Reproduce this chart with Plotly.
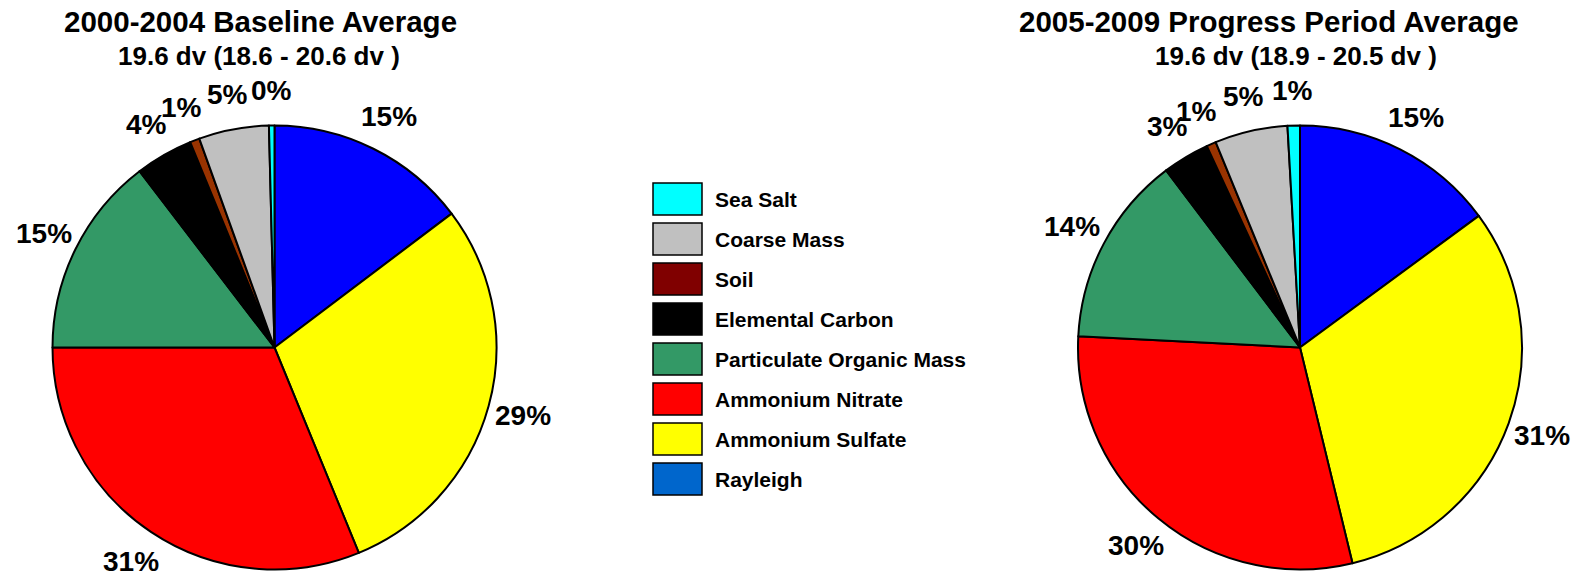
import math
import plotly.graph_objects as go

W, H = 1582, 576

# Slice order (clockwise from 12 o'clock)
components = ["Rayleigh", "Ammonium Sulfate", "Ammonium Nitrate",
              "Particulate Organic Mass", "Elemental Carbon", "Soil",
              "Coarse Mass", "Sea Salt"]
baseline_pct = [14.7, 29.1, 31.2, 14.6, 4.2, 0.7, 5.1, 0.4]
progress_pct = [14.9, 31.3, 29.6, 13.9, 3.4, 0.7, 5.3, 0.9]
pie_colors = ["#0000FF", "#FFFF00", "#FF0000", "#339966", "#000000",
              "#993300", "#C0C0C0", "#00FFFF"]

# Legend (top to bottom)
legend_labels = ["Sea Salt", "Coarse Mass", "Soil", "Elemental Carbon",
                 "Particulate Organic Mass", "Ammonium Nitrate",
                 "Ammonium Sulfate", "Rayleigh"]
legend_colors = ["#00FFFF", "#C0C0C0", "#800000", "#000000", "#339966",
                 "#FF0000", "#FFFF00", "#0066CC"]

titles = ["2000-2004 Baseline Average", "2005-2009 Progress Period Average"]
subtitles = ["19.6 dv (18.6 - 20.6 dv )", "19.6 dv (18.9 - 20.5 dv )"]

FONT = "Liberation Sans, Arial, sans-serif"

# pie geometry (pixels)
R = 222
centers = [(274.5, 347.5), (1300, 347.5)]
title_x = [260, 1269]
subtitle_x = [259, 1296]

fig = go.Figure()
annotations = []
shapes = []

for i, (vals, (cx, cy)) in enumerate(zip([baseline_pct, progress_pct], centers)):
    fig.add_trace(go.Pie(
        labels=components, values=vals, sort=False, direction="clockwise",
        rotation=0, textinfo="none", hoverinfo="label+percent",
        marker=dict(colors=pie_colors, line=dict(color="black", width=2)),
        domain=dict(x=[(cx - R) / W, (cx + R) / W],
                    y=[(H - cy - R) / H, (H - cy + R) / H]),
        showlegend=False,
    ))
    total = sum(vals)
    cum = 0.0
    for v in vals:
        mid = (cum + v / 2) / total * 2 * math.pi
        cum += v
        rl = R * 1.16
        px = cx + rl * math.sin(mid)
        py = cy - rl * math.cos(mid)
        annotations.append(dict(
            x=px / W, y=1 - py / H, xref="paper", yref="paper",
            text=f"<b>{round(v)}%</b>", showarrow=False,
            xanchor="center", yanchor="middle",
            font=dict(family=FONT, size=28, color="black")))
    annotations.append(dict(
        x=title_x[i] / W, y=1 - 22 / H, xref="paper", yref="paper",
        text=f"<b>{titles[i]}</b>", showarrow=False,
        xanchor="center", yanchor="middle",
        font=dict(family=FONT, size=29.5, color="black")))
    annotations.append(dict(
        x=subtitle_x[i] / W, y=1 - 56 / H, xref="paper", yref="paper",
        text=f"<b>{subtitles[i]}</b>", showarrow=False,
        xanchor="center", yanchor="middle",
        font=dict(family=FONT, size=26, color="black")))

# custom legend
for j, (lab, col) in enumerate(zip(legend_labels, legend_colors)):
    top = 183 + 40 * j
    shapes.append(dict(type="rect", xref="paper", yref="paper",
                       x0=653 / W, x1=702 / W,
                       y0=1 - (top + 32) / H, y1=1 - top / H,
                       fillcolor=col, line=dict(color="black", width=1.5)))
    annotations.append(dict(
        x=713 / W, y=1 - (top + 16) / H, xref="paper", yref="paper",
        text=f"<b>{lab}</b>", showarrow=False,
        xanchor="left", yanchor="middle",
        font=dict(family=FONT, size=21, color="black")))

fig.update_layout(
    width=W, height=H,
    margin=dict(l=0, r=0, t=0, b=0),
    paper_bgcolor="white", plot_bgcolor="white",
    annotations=annotations, shapes=shapes,
    showlegend=False,
)

fig.write_html("out.html", config={"displayModeBar": False},
               post_script="document.body.style.margin='0';document.body.style.overflow='hidden';")
